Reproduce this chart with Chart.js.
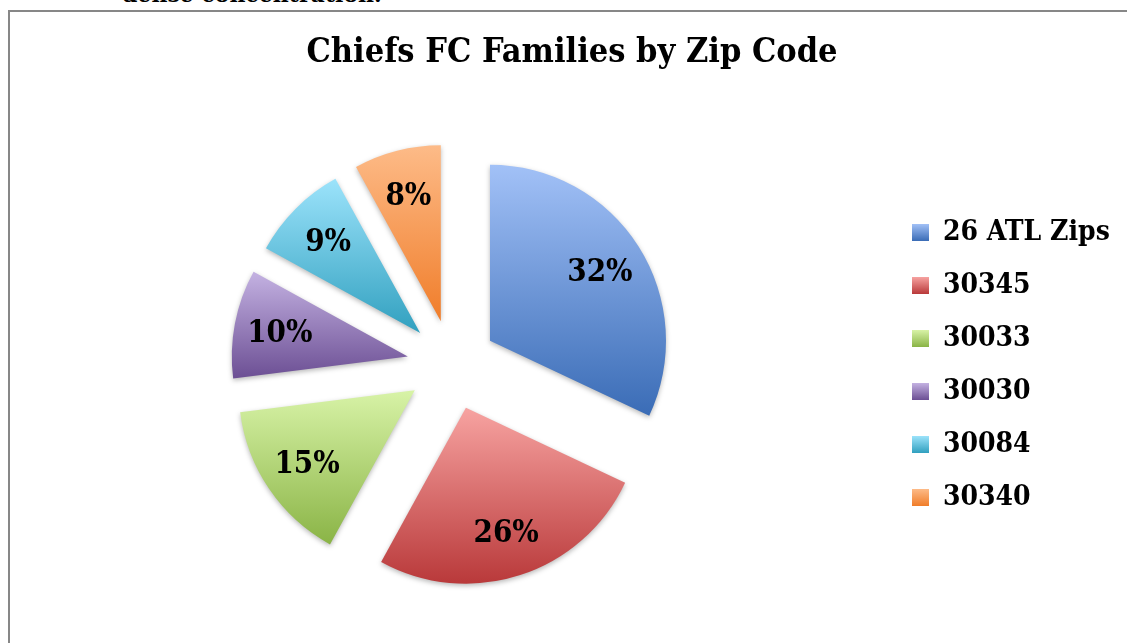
<!DOCTYPE html>
<html>
<head>
<meta charset="utf-8">
<script src="https://cdn.jsdelivr.net/npm/chart.js@4"></script>
<style>
  html, body { margin: 0; padding: 0; background: #fff; overflow: hidden; }
  #prev { position: absolute; left: 122px; top: -19px; font: bold 22px "DejaVu Serif", serif; color: #000; white-space: nowrap; }
  #frame { position: absolute; left: 8px; top: 10px; width: 1140px; height: 650px; border-left: 2px solid #878787; border-top: 2px solid #878787; }
  #wrap { position: absolute; left: 10px; top: 12px; width: 1117px; height: 631px; }
</style>
</head>
<body>
<div id="prev">dense concentration.</div>
<div id="frame"></div>
<div id="wrap"><canvas id="zipChart"></canvas></div>
<script>
// data
const zipCodes = ['26 ATL Zips', '30345', '30033', '30030', '30084', '30340'];
const familyShares = [32, 26, 15, 10, 9, 8];
const shareLabels = ['32%', '26%', '15%', '10%', '9%', '8%'];

// light top -> dark bottom, like the office gradient fill
const topColors = ['#a2c1f7', '#f7a3a1', '#d8f3a7', '#c4b2e2', '#9ce3fb', '#fdbb88'];
const bottomColors = ['#3a6cb6', '#b9393a', '#8ab446', '#6c4f94', '#31a0bf', '#f07d2a'];
const legendColors = ['#6f95d9', '#d8706f', '#b3d684', '#9a84bf', '#67c3dd', '#f89d58'];

const FONT = '"DejaVu Serif Condensed", "DejaVu Serif", serif';
const RADIUS = 176;
const EXPLODE = 45; // how far each slice is pulled out
const BOX = 17;
const LEGEND_FONT = 28;
const LEGEND_PAD = 25;

function sliceGradient(context) {
  const chart = context.chart;
  const area = chart.chartArea;
  const i = context.dataIndex;
  if (!area || i === undefined) return legendColors[i] || '#999';
  const total = familyShares.reduce((a, b) => a + b, 0);
  let before = 0;
  for (let k = 0; k < i; k++) before += familyShares[k];
  const a0 = -Math.PI / 2 + before / total * 2 * Math.PI;
  const a1 = a0 + familyShares[i] / total * 2 * Math.PI;
  // the slice is drawn in a translated context, so use the plain center
  const cy = (area.top + area.bottom) / 2;
  const ys = [cy, cy + RADIUS * Math.sin(a0), cy + RADIUS * Math.sin(a1)];
  [-Math.PI / 2, Math.PI / 2, 3 * Math.PI / 2].forEach(t => {
    if (t > a0 && t < a1) ys.push(cy + RADIUS * Math.sin(t));
  });
  const g = chart.ctx.createLinearGradient(0, Math.min(...ys), 0, Math.max(...ys));
  g.addColorStop(0, topColors[i]);
  g.addColorStop(1, bottomColors[i]);
  return g;
}

// pull every slice out by the same distance, keeping its radius
const explode = {
  id: 'explode',
  afterDatasetsUpdate(chart) {
    chart.getDatasetMeta(0).data.forEach(arc => {
      if (arc._exploded) return;
      arc._exploded = true;
      const baseDraw = arc.draw;
      arc.draw = function (ctx) {
        const mid = (this.startAngle + this.endAngle) / 2;
        ctx.save();
        ctx.translate(Math.cos(mid) * EXPLODE, Math.sin(mid) * EXPLODE);
        baseDraw.call(this, ctx);
        ctx.restore();
      };
    });
  }
};

const sliceLabels = {
  id: 'sliceLabels',
  beforeDatasetsDraw(chart) {
    const ctx = chart.ctx;
    ctx.save();
    ctx.shadowColor = 'rgba(0,0,0,0.28)';
    ctx.shadowBlur = 5;
    ctx.shadowOffsetY = 2;
  },
  afterDatasetsDraw(chart) {
    const ctx = chart.ctx;
    ctx.restore();
    const meta = chart.getDatasetMeta(0);
    ctx.save();
    ctx.font = 'bold 31px ' + FONT;
    ctx.textAlign = 'center';
    ctx.textBaseline = 'middle';
    ctx.fillStyle = '#000';
    meta.data.forEach((arc, i) => {
      const mid = (arc.startAngle + arc.endAngle) / 2;
      const d = EXPLODE + arc.outerRadius * 0.74;
      ctx.fillText(shareLabels[i], arc.x + Math.cos(mid) * d, arc.y + Math.sin(mid) * d + 2);
    });
    ctx.restore();
  }
};

const legendWidth = {
  id: 'legendWidth',
  afterInit(chart) {
    const fit = chart.legend.fit;
    chart.legend.fit = function () {
      fit.call(this);
      this.width = 240;
    };
  }
};

new Chart(document.getElementById('zipChart'), {
  type: 'pie',
  data: {
    labels: zipCodes,
    datasets: [{
      data: familyShares,
      backgroundColor: sliceGradient,
      borderWidth: 0,
      radius: RADIUS,
      clip: false
    }]
  },
  options: {
    responsive: true,
    maintainAspectRatio: false,
    animation: false,
    events: [],
    layout: { padding: { left: 7, right: 0, top: 0, bottom: 15 } },
    plugins: {
      title: {
        display: true,
        text: 'Chiefs FC Families by Zip Code',
        color: '#000',
        font: { family: FONT, size: 34, weight: 'bold' },
        padding: { top: 21, bottom: 28 }
      },
      legend: {
        position: 'right',
        fullSize: false,
        labels: {
          color: '#000',
          font: { family: FONT, size: LEGEND_FONT, weight: 'bold' },
          boxWidth: BOX,
          boxHeight: BOX,
          padding: LEGEND_PAD,
          generateLabels(ch) {
            const lg = ch.legend;
            const boxes = lg && lg.legendHitBoxes;
            const cols = lg && lg.columnSizes;
            let start = null;
            if (boxes && cols && cols.length && lg.top !== undefined) {
              // same centring the legend uses for its first row
              start = (lg.top + LEGEND_PAD + lg.bottom - cols[0].height) / 2;
            }
            return zipCodes.map((z, i) => {
              let fill = legendColors[i];
              const hb = boxes && boxes[i];
              if (start !== null && hb) {
                const top = start + hb.top + (LEGEND_FONT - BOX) / 2;
                fill = ch.ctx.createLinearGradient(0, top, 0, top + BOX);
                fill.addColorStop(0, topColors[i]);
                fill.addColorStop(1, bottomColors[i]);
              }
              return { text: z, fillStyle: fill, strokeStyle: 'rgba(0,0,0,0)', lineWidth: 0, hidden: false, index: i };
            });
          }
        }
      },
      tooltip: { enabled: false }
    }
  },
  plugins: [explode, sliceLabels, legendWidth]
});
</script>
</body>
</html>
